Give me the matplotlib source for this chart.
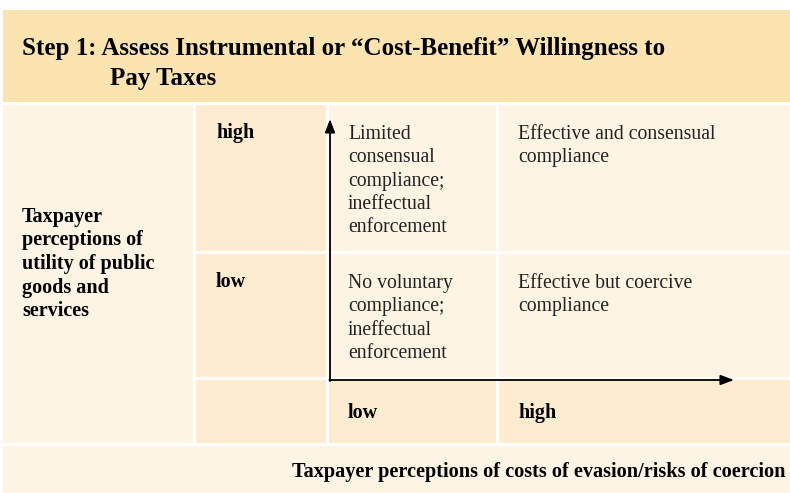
import matplotlib
matplotlib.use("Agg")
import matplotlib.pyplot as plt
from matplotlib.patches import Rectangle

# chart content
title_lines = ["Step 1: Assess Instrumental or \u201cCost-Benefit\u201d Willingness to", "Pay Taxes"]
y_axis_label = "Taxpayer\nperceptions of\nutility of public\ngoods and\nservices"
x_axis_label = "Taxpayer perceptions of costs of evasion/risks of coercion"
row_levels = ["high", "low"]
col_levels = ["low", "high"]
cell_texts = [
    ["Limited\nconsensual\ncompliance;\nineffectual\nenforcement", "Effective and consensual\ncompliance"],
    ["No voluntary\ncompliance;\nineffectual\nenforcement", "Effective but coercive\ncompliance"],
]

# colours
band = "#fce4b1"
dark = "#fdecd0"
light = "#fef4e4"

# layout (pixel grid of the 790x493 canvas)
W, H = 790, 493
x_edges = [3, 196, 329, 499, 790]     # left col | label col | col low | col high
row_edges = [105, 254, 380, 446]      # high row | low row | bottom labels
gap = 3

fig = plt.figure(figsize=(7.9, 4.93), dpi=100)
ax = fig.add_axes([0, 0, 1, 1])
ax.set_xlim(0, W)
ax.set_ylim(H, 0)
ax.axis("off")

serif = ["Liberation Serif", "DejaVu Serif"]


def box(x0, x1, y0, y1, color):
    ax.add_patch(Rectangle((x0, y0), x1 - x0 - gap, y1 - y0 - gap, color=color, lw=0))


# title band
box(3, W + gap, 10, row_edges[0], band)
ax.text(22, 48, title_lines[0], fontsize=18, fontweight="bold", family=serif, va="center")
ax.text(110, 78, title_lines[1], fontsize=18, fontweight="bold", family=serif, va="center")

# left label column
box(x_edges[0], x_edges[1], row_edges[0], row_edges[3], light)
ax.text(22, 264, y_axis_label, fontsize=14.5, fontweight="bold", family=serif,
        va="center", linespacing=1.245)

# row level labels and cells
for i, lvl in enumerate(row_levels):
    y0, y1 = row_edges[i], row_edges[i + 1]
    box(x_edges[1], x_edges[2], y0, y1, dark)
    ax.text(216, y0 + 28, lvl, fontsize=14.5, fontweight="bold", family=serif, va="center")
    for j in range(2):
        box(x_edges[2 + j], x_edges[3 + j] + (gap if j == 1 else 0), y0, y1, light)
        ax.text(x_edges[2 + j] + 19, y0 + 20, cell_texts[i][j], fontsize=14.2, family=serif,
                va="top", linespacing=1.31, color="#222222")

# bottom column labels
y0, y1 = row_edges[2], row_edges[3]
box(x_edges[1], x_edges[2], y0, y1, dark)
for j, lvl in enumerate(col_levels):
    box(x_edges[2 + j], x_edges[3 + j] + (gap if j == 1 else 0), y0, y1, dark)
    ax.text(x_edges[2 + j] + 19, 413, lvl, fontsize=14.5, fontweight="bold", family=serif, va="center")

# footer
box(3, W + gap, row_edges[3], H + gap, light)
ax.text(785, 472, x_axis_label, fontsize=14.6, fontweight="bold", family=serif,
        va="center", ha="right")

# axis arrows
ax.annotate("", xy=(330, 119), xytext=(330, 381),
            arrowprops=dict(arrowstyle="-|>,head_length=0.8,head_width=0.3", color="black", lw=1.3,
                            shrinkA=0, shrinkB=0))
ax.annotate("", xy=(734, 380), xytext=(329.4, 380),
            arrowprops=dict(arrowstyle="-|>,head_length=0.8,head_width=0.3", color="black", lw=1.3,
                            shrinkA=0, shrinkB=0))

fig.savefig("out.png", dpi=100, facecolor="white")
